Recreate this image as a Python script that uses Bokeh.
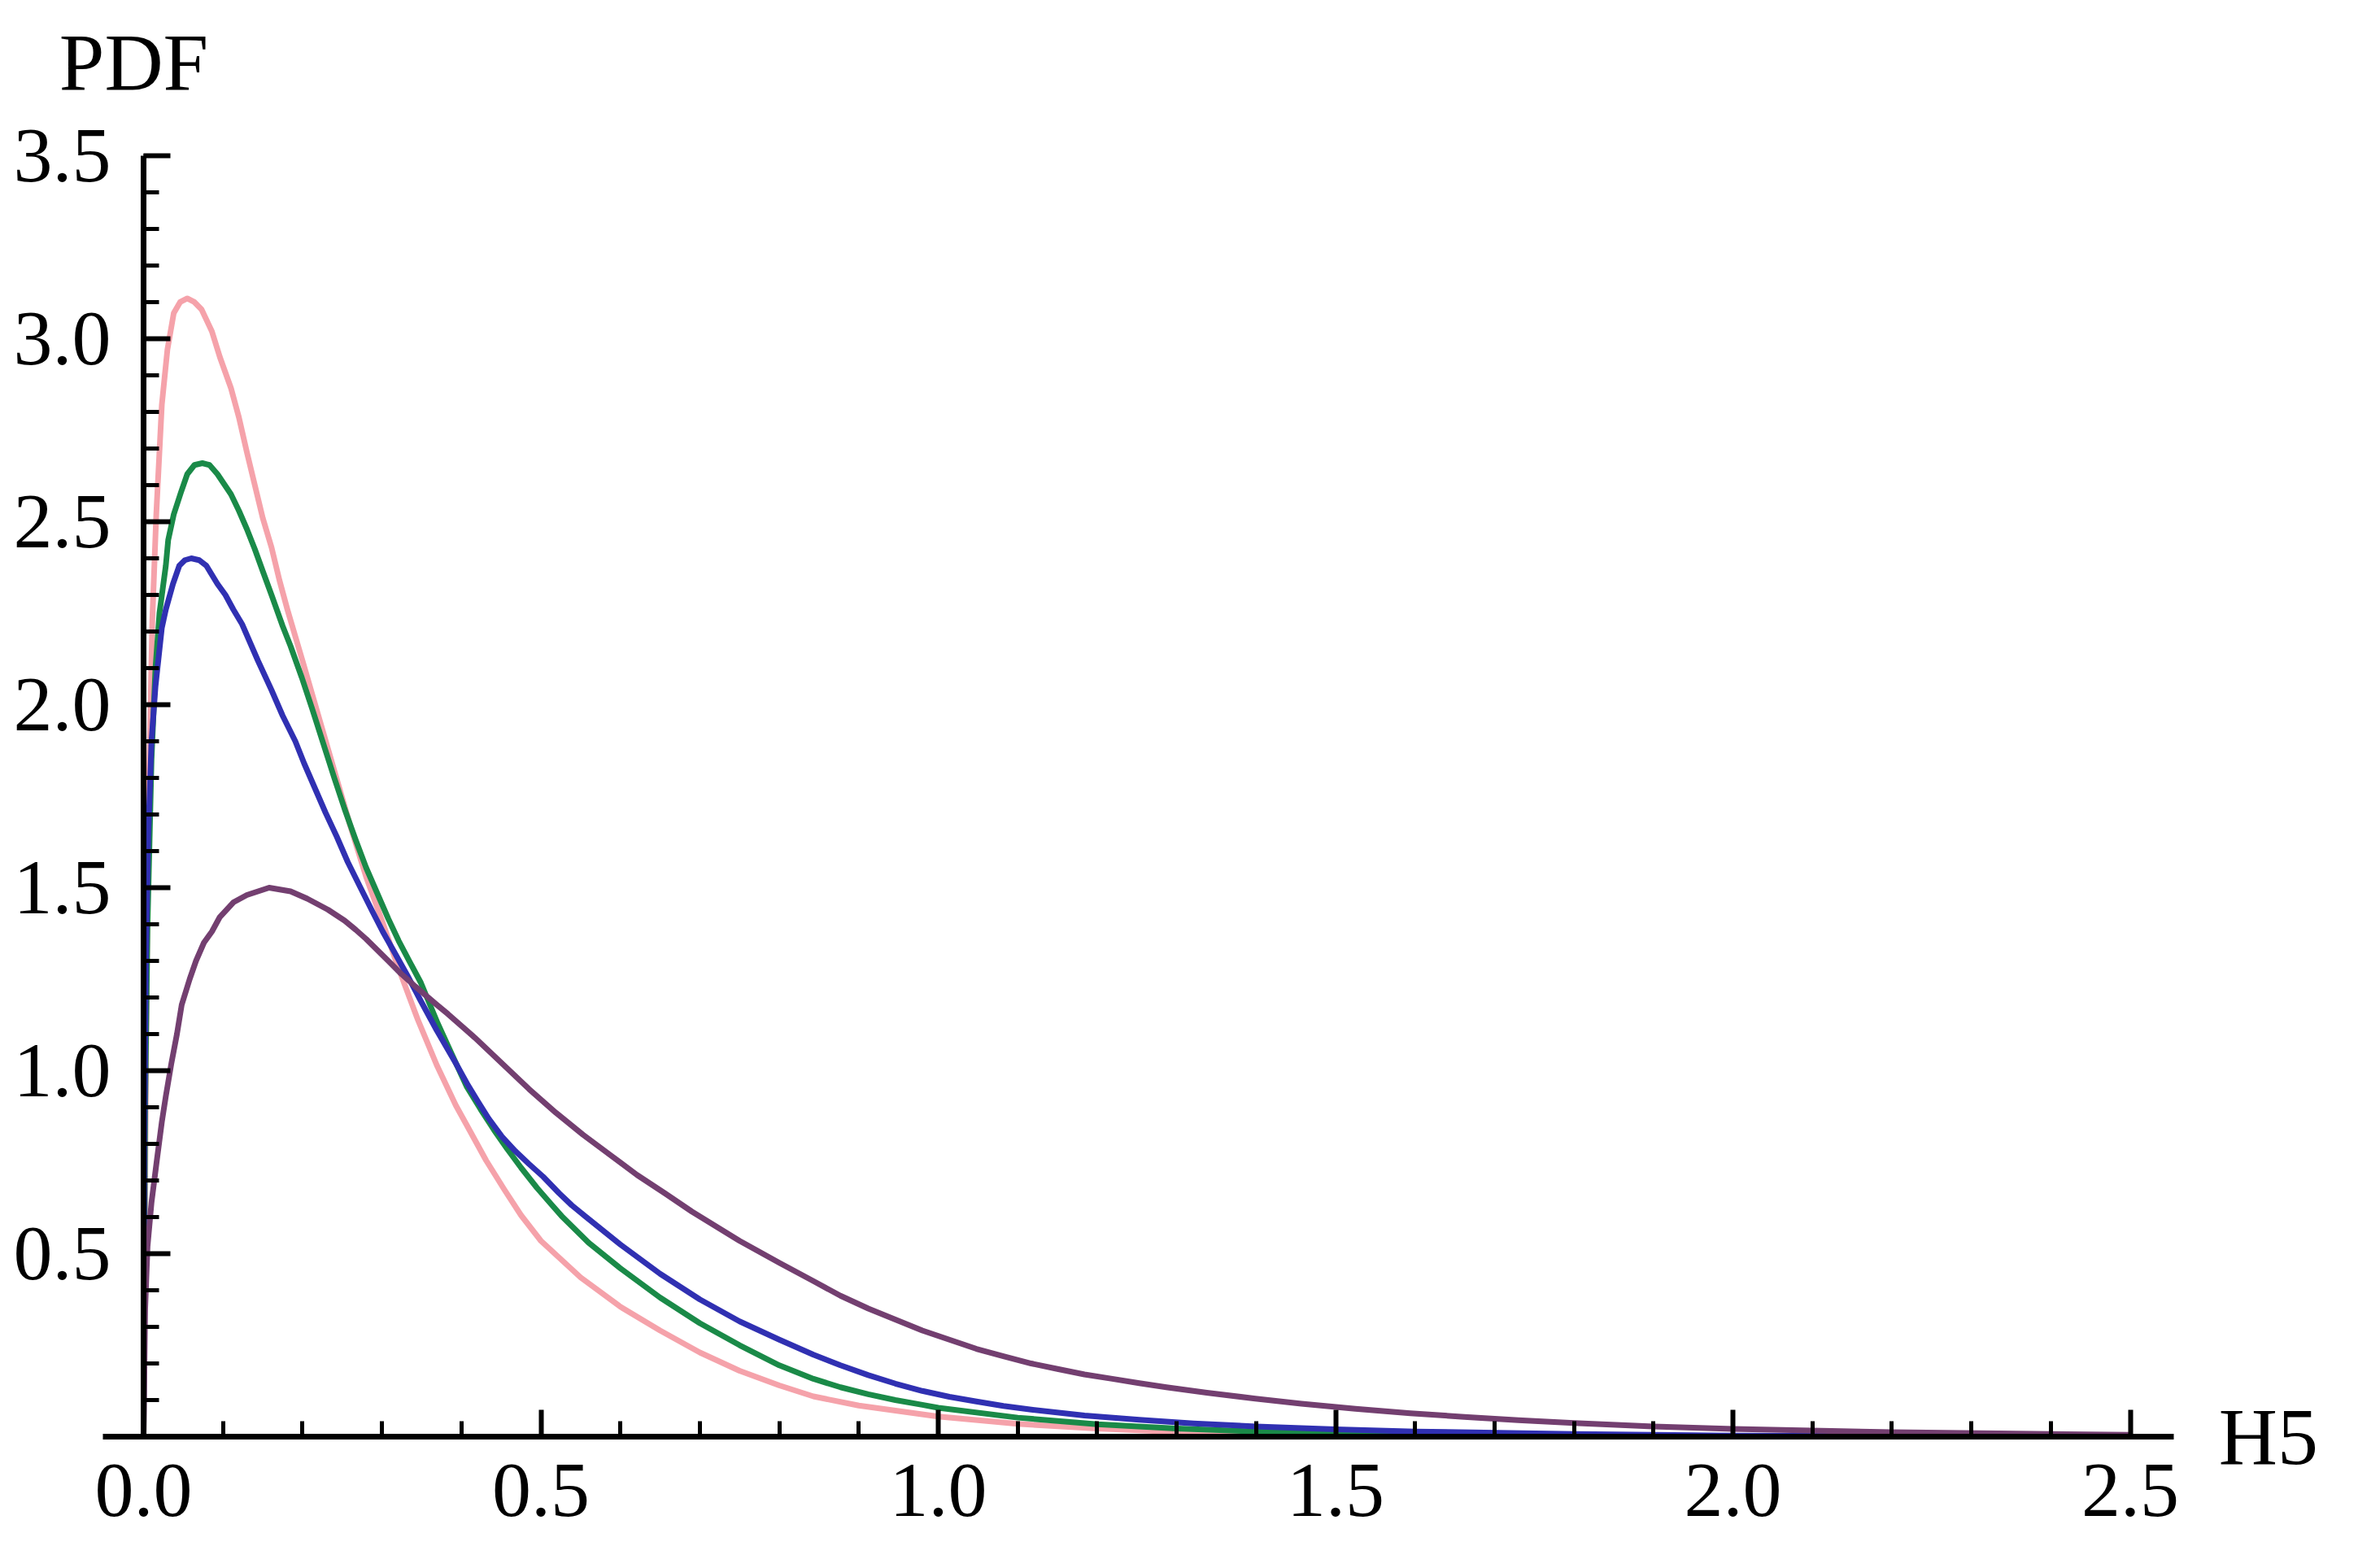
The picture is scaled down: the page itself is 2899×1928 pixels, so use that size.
from bokeh.plotting import figure
from bokeh.models import Range1d, Label, FixedTicker, PrintfTickFormatter, LinearAxis
from bokeh.embed import file_html
from bokeh.resources import INLINE

# ---- data ----
pink_x = [0, 0.003, 0.006, 0.011, 0.016, 0.023, 0.030, 0.038, 0.046, 0.055, 0.064, 0.073, 0.086, 0.096,
          0.110, 0.120, 0.130, 0.140, 0.150, 0.161, 0.171, 0.181, 0.200, 0.220, 0.240, 0.260, 0.280,
          0.300, 0.320, 0.345, 0.369, 0.393, 0.407, 0.431, 0.454, 0.475, 0.500, 0.550, 0.600, 0.650,
          0.700, 0.750, 0.800, 0.843, 0.900, 1.000, 1.100, 1.200, 1.300, 1.500, 2.000, 2.500]
pink_y = [0, 1.00, 1.70, 2.23, 2.52, 2.82, 2.97, 3.07, 3.10, 3.11, 3.10, 3.08, 3.02, 2.95,
          2.865, 2.785, 2.69, 2.60, 2.51, 2.43, 2.34, 2.26, 2.12, 1.97, 1.82, 1.67, 1.53,
          1.41, 1.285, 1.14, 1.015, 0.905, 0.85, 0.755, 0.675, 0.605, 0.535, 0.435, 0.355, 0.29,
          0.23, 0.18, 0.14, 0.11, 0.085, 0.055, 0.035, 0.022, 0.013, 0.005, 0.0005, 0.0]

green_x = [0, 0.002, 0.005, 0.010, 0.015, 0.020, 0.028, 0.031, 0.038, 0.047, 0.055, 0.064, 0.074, 0.083,
           0.093, 0.110, 0.120, 0.130, 0.140, 0.150, 0.161, 0.175, 0.185, 0.199, 0.212,
           0.226, 0.240, 0.253, 0.267, 0.280, 0.294, 0.308, 0.321, 0.335, 0.349, 0.370, 0.390, 0.407,
           0.424, 0.441, 0.458, 0.475, 0.495, 0.513, 0.526, 0.560, 0.600, 0.650, 0.700, 0.750, 0.800,
           0.843, 0.877, 0.912, 0.946, 0.980, 1.000, 1.100, 1.200, 1.300, 1.400, 1.600, 2.000, 2.500]
green_y = [0, 0.90, 1.40, 1.85, 2.10, 2.25, 2.38, 2.45, 2.52, 2.58, 2.63, 2.655, 2.66, 2.655,
           2.63, 2.575, 2.53, 2.48, 2.425, 2.365, 2.30, 2.215, 2.16, 2.075, 1.99,
           1.895, 1.80, 1.715, 1.63, 1.555, 1.485, 1.415, 1.355, 1.297, 1.24, 1.13, 1.035, 0.955,
           0.895, 0.838, 0.785, 0.735, 0.68, 0.635, 0.603, 0.53, 0.46, 0.38, 0.31, 0.25, 0.195,
           0.158, 0.135, 0.116, 0.100, 0.087, 0.079, 0.052, 0.034, 0.022, 0.014, 0.006, 0.001, 0.0]

blue_x = [0, 0.001, 0.003, 0.006, 0.010, 0.015, 0.023, 0.028, 0.037, 0.045, 0.052, 0.060, 0.070, 0.079,
          0.093, 0.103, 0.113, 0.124, 0.144, 0.161, 0.175, 0.191, 0.202, 0.216, 0.229, 0.243, 0.257,
          0.273, 0.288, 0.301, 0.314, 0.332, 0.349, 0.369, 0.393, 0.407, 0.421, 0.434, 0.451, 0.468,
          0.485, 0.503, 0.523, 0.539, 0.557, 0.600, 0.650, 0.700, 0.750, 0.800, 0.843, 0.877, 0.912,
          0.946, 0.980, 1.014, 1.048, 1.082, 1.117, 1.184, 1.253, 1.321, 1.400, 1.500, 1.600, 1.800,
          2.000, 2.500]
blue_y = [0, 0.80, 1.30, 1.65, 1.90, 2.05, 2.21, 2.26, 2.33, 2.38, 2.395, 2.40, 2.395, 2.38,
          2.33, 2.30, 2.26, 2.22, 2.12, 2.04, 1.97, 1.90, 1.84, 1.77, 1.705, 1.64, 1.57,
          1.50, 1.435, 1.38, 1.33, 1.26, 1.19, 1.11, 1.02, 0.965, 0.915, 0.87, 0.82, 0.78,
          0.745, 0.71, 0.665, 0.632, 0.60, 0.525, 0.445, 0.375, 0.315, 0.265, 0.224, 0.195, 0.168,
          0.145, 0.125, 0.109, 0.096, 0.084, 0.074, 0.058, 0.046, 0.036, 0.028, 0.020, 0.014, 0.007,
          0.003, 0.0005]

purple_x = [0, 0.002, 0.005, 0.010, 0.017, 0.023, 0.028, 0.035, 0.042, 0.048, 0.058, 0.066, 0.076, 0.086,
            0.096, 0.113, 0.130, 0.158, 0.185, 0.206, 0.219, 0.232, 0.253, 0.267, 0.280, 0.294, 0.308,
            0.324, 0.342, 0.369, 0.383, 0.417, 0.451, 0.485, 0.519, 0.553, 0.587, 0.621, 0.656, 0.690,
            0.750, 0.800, 0.843, 0.877, 0.912, 0.946, 0.980, 1.014, 1.048, 1.082, 1.117, 1.150, 1.184,
            1.219, 1.253, 1.287, 1.338, 1.399, 1.457, 1.525, 1.594, 1.662, 1.730, 1.800, 1.900, 2.000,
            2.200, 2.400, 2.500]
purple_y = [0, 0.35, 0.52, 0.64, 0.76, 0.86, 0.93, 1.02, 1.10, 1.18, 1.25, 1.30, 1.35, 1.38,
            1.42, 1.46, 1.48, 1.50, 1.49, 1.47, 1.455, 1.44, 1.41, 1.385, 1.36, 1.33, 1.30,
            1.265, 1.23, 1.18, 1.155, 1.09, 1.02, 0.95, 0.885, 0.825, 0.77, 0.715, 0.665, 0.615,
            0.535, 0.475, 0.425, 0.385, 0.35, 0.32, 0.29, 0.265, 0.24, 0.22, 0.20, 0.185, 0.17,
            0.158, 0.146, 0.135, 0.12, 0.104, 0.09, 0.076, 0.064, 0.054, 0.045, 0.037, 0.028, 0.021,
            0.012, 0.007, 0.005]

x_major = [0.0, 0.5, 1.0, 1.5, 2.0, 2.5]
x_minor = [i / 10 for i in range(0, 26)]
y_major = [0.5, 1.0, 1.5, 2.0, 2.5, 3.0, 3.5]
y_minor = [i / 10 for i in range(1, 36)]

series = [
    (pink_x, pink_y, "#f5a2aa"),
    (green_x, green_y, "#1a8a48"),
    (blue_x, blue_y, "#3030b2"),
    (purple_x, purple_y, "#733f70"),
]

W, H = 2883, 1912
FONT = "Liberation Serif"

p = figure(width=W, height=H, output_backend="svg", toolbar_location=None,
           x_range=Range1d(-0.18014, 2.7707), y_range=Range1d(-0.3244, 3.9244),
           x_axis_type=None, y_axis_type=None,
           min_border=0, min_border_left=0, min_border_right=0,
           min_border_top=0, min_border_bottom=0)
p.grid.visible = False
p.outline_line_color = None
p.background_fill_color = "white"
p.border_fill_color = "white"

for xs, ys, c in series:
    p.line(xs, ys, line_width=7, line_color=c, line_join="round")

xa = LinearAxis(fixed_location=0, bounds=(-0.051, 2.555),
                ticker=FixedTicker(ticks=x_major, minor_ticks=x_minor),
                formatter=PrintfTickFormatter(format="%.1f"))
ya = LinearAxis(fixed_location=0, bounds=(0, 3.5),
                ticker=FixedTicker(ticks=y_major, minor_ticks=y_minor),
                formatter=PrintfTickFormatter(format="%.1f"))
for ax in (xa, ya):
    ax.axis_line_width = 7
    ax.axis_line_color = "black"
    ax.major_tick_in = 33
    ax.major_tick_out = 0
    ax.minor_tick_in = 19
    ax.minor_tick_out = 0
    ax.major_tick_line_width = 6
    ax.minor_tick_line_width = 5
    ax.major_tick_line_color = "black"
    ax.minor_tick_line_color = "black"
    ax.major_label_text_font = FONT
    ax.major_label_text_font_size = "96px"
    ax.major_label_text_color = "black"
xa.major_label_standoff = 34
ya.major_label_standoff = 40
p.add_layout(xa, "below")
p.add_layout(ya, "left")

p.add_layout(Label(x=0, y=3.5, x_offset=-12, y_offset=115, text="PDF",
                   text_align="center", text_baseline="alphabetic",
                   text_font=FONT, text_font_size="100px", text_color="black"))
p.add_layout(Label(x=2.555, y=0, x_offset=55, y_offset=0, text="H5",
                   text_align="left", text_baseline="middle",
                   text_font=FONT, text_font_size="100px", text_color="black"))

open("out.html", "w").write(file_html(p, INLINE))
